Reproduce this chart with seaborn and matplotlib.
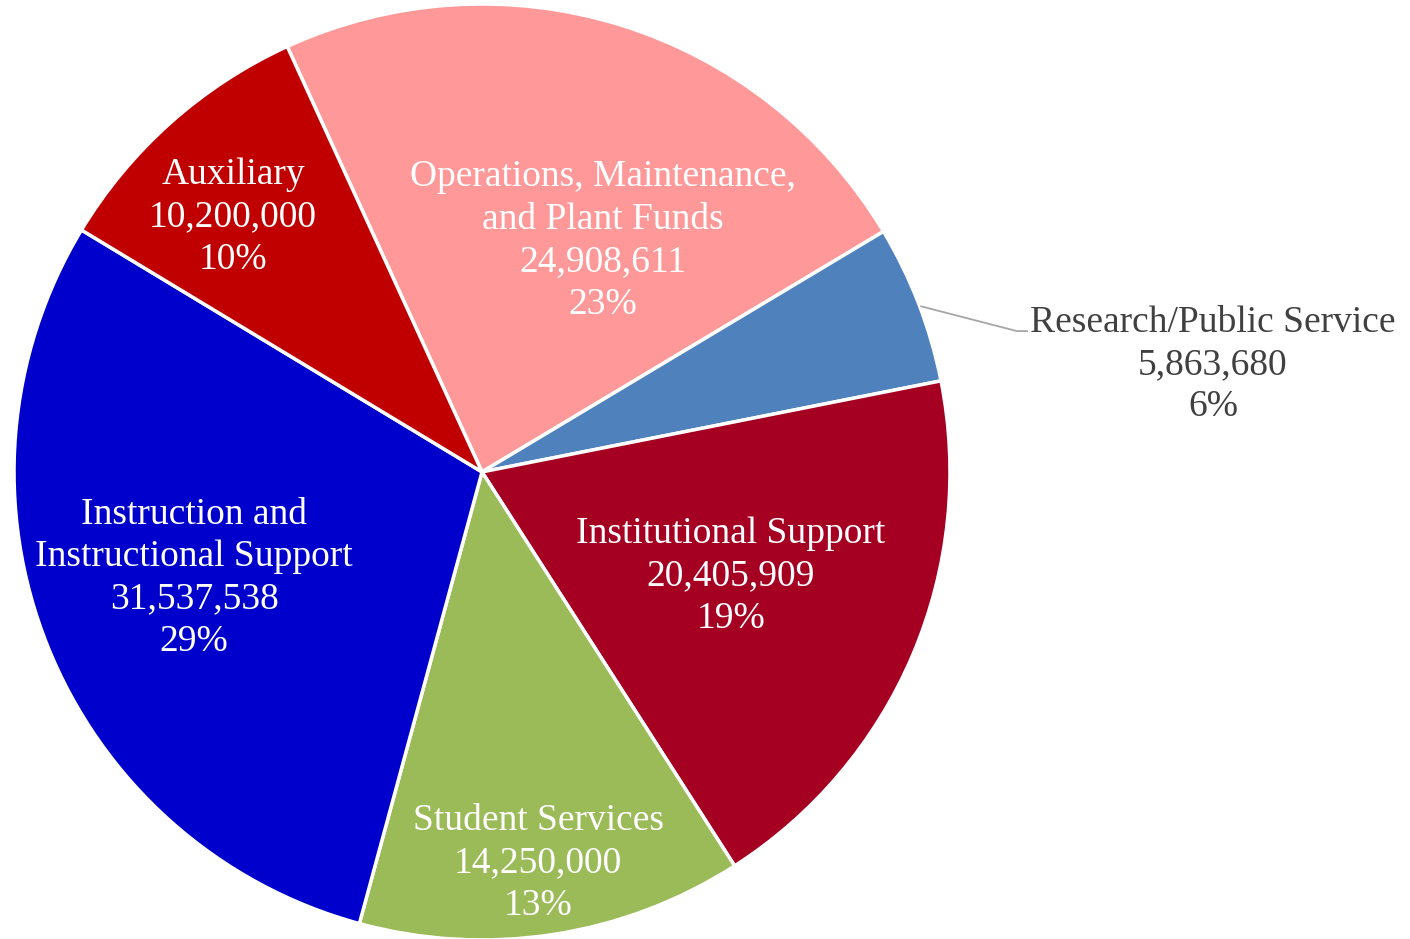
import matplotlib
matplotlib.use("Agg")
import matplotlib.pyplot as plt
import seaborn as sns

# data, clockwise from the Operations slice
categories = ["Operations, Maintenance,\nand Plant Funds", "Research/Public Service",
              "Institutional Support", "Student Services",
              "Instruction and\nInstructional Support", "Auxiliary"]
amounts = [24908611, 5863680, 20405909, 14250000, 31537538, 10200000]
percents = [23, 6, 19, 13, 29, 10]
colors = ["#FF9999", "#4F81BD", "#A50021", "#9BBB59", "#0000CC", "#C00000"]

# label centres (in pie radius units), and text colours
label_pos = [(0.259, 0.494), (1.562, 0.229), (0.532, -0.222),
             (0.120, -0.836), (-0.615, -0.227), (-0.532, 0.545)]
label_col = ["white", "#404040", "white", "white", "white", "white"]

sns.set_style("white")
plt.rcParams["font.family"] = ["Liberation Serif", "DejaVu Serif"]

fig = plt.figure(figsize=(14.1, 9.39), dpi=100)
ax = fig.add_axes([0, 0, 1, 1])

ax.pie(amounts, colors=colors, startangle=114.6, counterclock=False,
       radius=1.0, center=(0, 0),
       wedgeprops=dict(edgecolor="white", linewidth=2.5))

for name, val, pct, (x, y), c in zip(categories, amounts, percents, label_pos, label_col):
    ax.text(x, y, f"{name}\n{val:,}\n{pct}%", ha="center", va="center",
            color=c, fontsize=27, linespacing=1.30)

# leader line for the outside label
ax.plot([0.938, 1.143, 1.165], [0.354, 0.301, 0.301], color="#A6A6A6", lw=1.3)

ax.set_xlim(-1.030, 1.983)
ax.set_ylim(-0.998, 1.0085)
ax.set_aspect("auto")
ax.axis("off")

fig.savefig("out.png", dpi=100)
